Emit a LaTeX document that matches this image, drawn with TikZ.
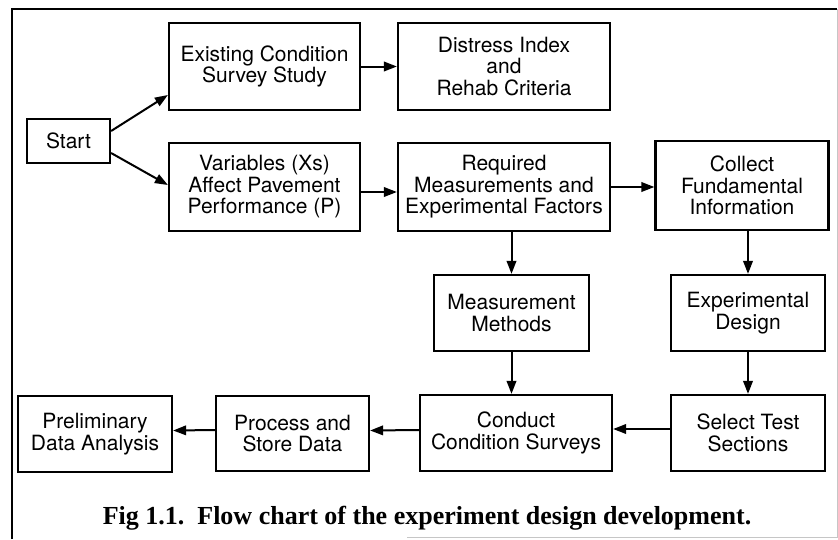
\documentclass[tikz,border=0pt]{standalone}
\usepackage{fontspec}
\setmainfont{TeX Gyre Heros}
\newfontfamily\capfont{Liberation Serif}
\usetikzlibrary{arrows.meta}

\tikzset{
    box/.style={draw, line width=2.2pt, align=center, inner sep=0pt,
        font=\fontsize{21}{21.5}\selectfont},
    arr/.style={line width=2pt, -{Triangle[length=13pt,width=9.5pt]}}
}

\begin{document}
\begin{tikzpicture}[x=1pt, y=-1pt]
    \useasboundingbox (0,0) rectangle (838,539);

    % frame
    \draw[line width=1.8pt] (12,539) -- (12,9) -- (837,9);
    \draw[gray!45, line width=1pt] (837,9) -- (837,537) -- (407,537);

    \node[box, minimum width=83pt, minimum height=44pt] (start) at (68.5,141) {Start};
    \node[box, minimum width=191pt, minimum height=87pt] (exist) at (264.5,66.5) {Existing Condition\\Survey Study};
    \node[box, minimum width=212pt, minimum height=87pt] (distress) at (504,66.5) {Distress Index\\and\\Rehab Criteria};
    \node[box, minimum width=191pt, minimum height=88pt] (vars) at (264.5,187) {Variables (Xs)\\Affect Pavement\\Performance (P)};
    \node[box, minimum width=212pt, minimum height=88pt] (req) at (504,187) {Required\\Measurements and\\Experimental Factors};
    \node[box, minimum width=173pt, minimum height=89pt] (collect) at (742,185.5) {Collect\\Fundamental\\Information};
    \node[box, minimum width=155pt, minimum height=76pt] (meas) at (511.5,313) {Measurement\\Methods};
    \node[box, minimum width=154pt, minimum height=76pt] (expd) at (748,313) {Experimental\\Design};
    \node[box, minimum width=192pt, minimum height=76pt] (conduct) at (516,433) {Conduct\\Condition Surveys};
    \node[box, minimum width=154pt, minimum height=76pt] (select) at (748,433) {Select Test\\Sections};
    \node[box, minimum width=154pt, minimum height=76pt] (prelim) at (95,434) {Preliminary\\Data Analysis};
    \node[box, minimum width=153pt, minimum height=75pt] (process) at (292.5,433.5) {Process and\\Store Data};

    \draw[arr] ([yshift=10pt]start.east) -- ([yshift=-28.5pt]exist.west);
    \draw[arr] ([yshift=-12pt]start.east) -- ([yshift=2pt]vars.west);
    \draw[arr] (exist.east) -- (distress.west);
    \draw[arr] ([yshift=-5pt]vars.east) -- ([yshift=-5pt]req.west);
    \draw[arr] (req.east) -- (req.east -| collect.west);
    \draw[arr] (meas.north |- req.south) -- (meas.north);
    \draw[arr] (expd.north |- collect.south) -- (expd.north);
    \draw[arr] (meas.south) -- (meas.south |- conduct.north);
    \draw[arr] (expd.south) -- (select.north);
    \draw[arr] ([yshift=4pt]select.west) -- ([yshift=4pt]conduct.east);
    \draw[arr] ([yshift=3pt]conduct.west) -- ([yshift=3pt]process.east);
    \draw[arr] ([yshift=3.5pt]process.west) -- ([yshift=3.5pt]prelim.east);

    \node[font=\capfont\bfseries\fontsize{26}{28}\selectfont, anchor=base] (cap) at (427,524)
        {Fig 1.1.\ \ Flow chart of the experiment design development.};
\end{tikzpicture}
\end{document}
